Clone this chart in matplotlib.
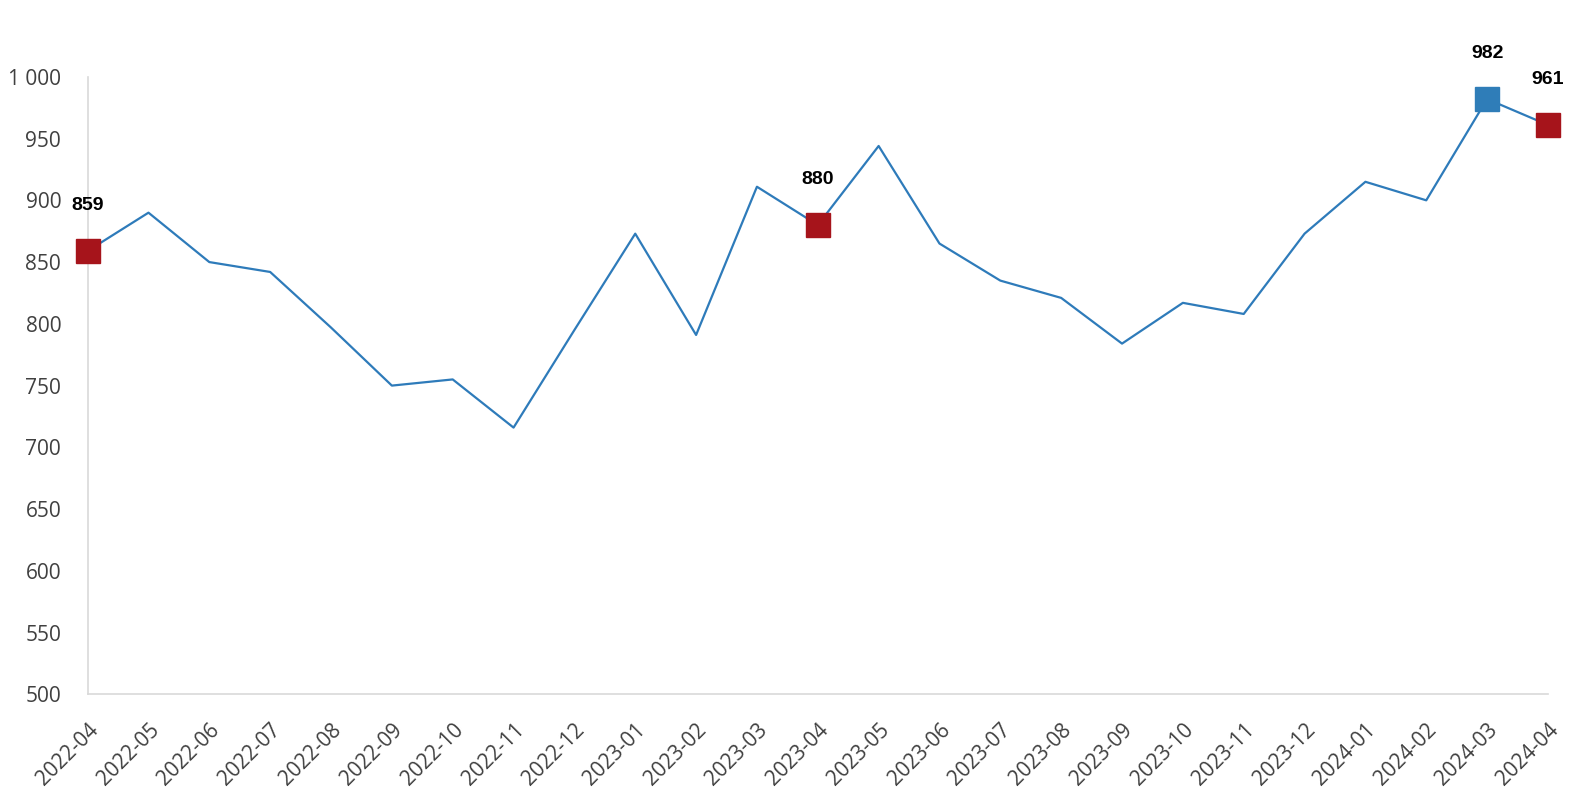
import numpy as np
import matplotlib
matplotlib.use("Agg")
import matplotlib.pyplot as plt
from matplotlib.ticker import FuncFormatter

# monthly series
months = ["2022-04", "2022-05", "2022-06", "2022-07", "2022-08", "2022-09",
          "2022-10", "2022-11", "2022-12", "2023-01", "2023-02", "2023-03",
          "2023-04", "2023-05", "2023-06", "2023-07", "2023-08", "2023-09",
          "2023-10", "2023-11", "2023-12", "2024-01", "2024-02", "2024-03",
          "2024-04"]
values = [859, 890, 850, 842, 797, 750, 755, 716, 795, 873, 791, 911,
          880, 944, 865, 835, 821, 784, 817, 808, 873, 915, 900, 982, 961]

# highlighted points: index -> colour
red_idx = [0, 12, 24]
blue_idx = [23]

line_col = "#2E7BBA"
red = "#A6141B"
blue = "#2F7DB8"

fig = plt.figure(figsize=(15.76, 8), dpi=100)
ax = fig.add_axes([0.0556, 0.132, 0.9266, 0.772])

x = np.arange(len(months))
ax.plot(x, values, color=line_col, lw=1.6, zorder=2)

for i in red_idx + blue_idx:
    c = blue if i in blue_idx else red
    ax.plot(x[i], values[i], marker="s", ms=17, color=c, mec=c,
            clip_on=False, zorder=3)
    ax.annotate(str(values[i]), (x[i], values[i]), xytext=(0, 33),
                textcoords="offset points", ha="center", va="center",
                fontsize=14, fontweight="bold", family="Liberation Sans",
                color="black", annotation_clip=False)

ax.set_xlim(0, len(months) - 1)
ax.set_ylim(500, 1000)
ax.set_yticks(np.arange(500, 1001, 50))
ax.yaxis.set_major_formatter(FuncFormatter(lambda v, p: f"{int(v):,}".replace(",", " ")))
ax.set_xticks(x)
ax.set_xticklabels(months, rotation=45, ha="right", rotation_mode="anchor")

for lab in ax.get_xticklabels() + ax.get_yticklabels():
    lab.set_family("Open Sans")
    lab.set_fontsize(15)
    lab.set_color("#404040")

ax.tick_params(axis="both", length=0)
ax.tick_params(axis="y", pad=19)
ax.tick_params(axis="x", pad=18)

for s in ["top", "right"]:
    ax.spines[s].set_visible(False)
for s in ["left", "bottom"]:
    ax.spines[s].set_color("#D9D9D9")
    ax.spines[s].set_linewidth(1.2)

fig.savefig("out.png", dpi=100)
